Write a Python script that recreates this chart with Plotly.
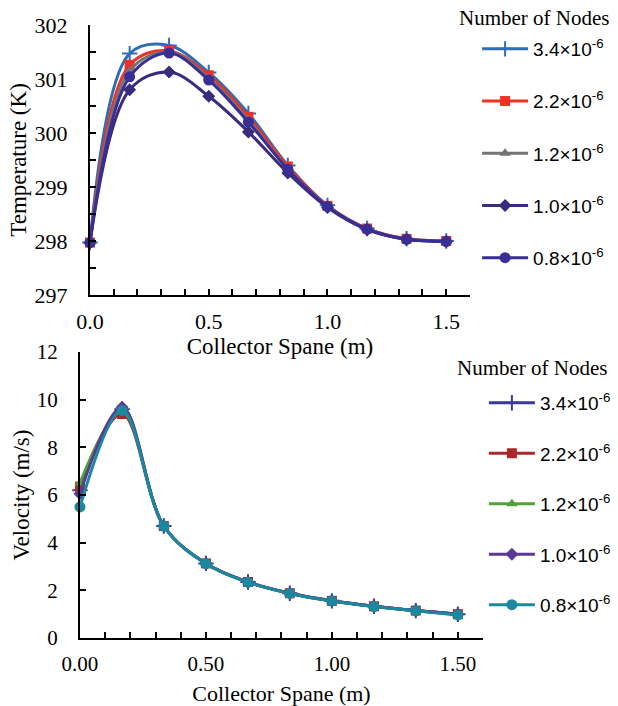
import plotly.graph_objects as go

# ---- data ----
span = [0.0, 0.167, 0.333, 0.5, 0.667, 0.833, 1.0, 1.167, 1.333, 1.5]
node_labels = ["3.4×10<sup>-6</sup>", "2.2×10<sup>-6</sup>", "1.2×10<sup>-6</sup>",
               "1.0×10<sup>-6</sup>", "0.8×10<sup>-6</sup>"]
legend_title = "Number of Nodes"

temp_34 = [297.97, 301.47, 301.62, 301.12, 300.36, 299.40, 298.66, 298.23, 298.04, 298.00]
temp_22 = [297.97, 301.26, 301.52, 301.07, 300.30, 299.38, 298.65, 298.23, 298.04, 298.00]
temp_12 = [297.97, 301.15, 301.50, 301.02, 300.24, 299.34, 298.64, 298.22, 298.03, 298.00]
temp_10 = [297.97, 300.80, 301.13, 300.68, 300.02, 299.26, 298.62, 298.21, 298.03, 297.99]
temp_08 = [297.97, 301.04, 301.48, 300.98, 300.20, 299.33, 298.64, 298.22, 298.03, 297.99]

vel_34 = [6.20, 9.60, 4.70, 3.13, 2.35, 1.88, 1.56, 1.33, 1.15, 1.00]
vel_22 = [6.35, 9.40, 4.70, 3.13, 2.35, 1.88, 1.56, 1.33, 1.15, 1.00]
vel_12 = [6.50, 9.50, 4.68, 3.12, 2.34, 1.87, 1.55, 1.32, 1.14, 0.98]
vel_10 = [6.05, 9.68, 4.70, 3.13, 2.35, 1.88, 1.56, 1.33, 1.15, 1.00]
vel_08 = [5.50, 9.55, 4.70, 3.12, 2.34, 1.87, 1.55, 1.32, 1.14, 0.97]

temps = [temp_34, temp_22, temp_12, temp_10, temp_08]
vels = [vel_34, vel_22, vel_12, vel_10, vel_08]

symbols = ["cross-thin", "square", "triangle-up", "diamond", "circle"]
top_colors = ["#2F6DB4", "#EE3124", "#747474", "#3A2B7C", "#392E95"]
bot_colors = ["#3A3A96", "#A8292C", "#4FA23A", "#5A3A93", "#1B88A0"]
sizes = [11, 10, 10, 10, 11]

SERIF = "Liberation Serif"
SANS = "Liberation Sans"

fig = go.Figure()

for i in range(5):
    fig.add_trace(go.Scatter(
        x=span, y=temps[i], name=node_labels[i], mode="lines+markers",
        line=dict(color=top_colors[i], width=3, shape="spline", smoothing=1.0),
        marker=dict(symbol=symbols[i], size=sizes[i], color=top_colors[i],
                    line=dict(color=top_colors[i], width=2 if i == 0 else 0)),
        xaxis="x", yaxis="y", legend="legend", legendgroup="t%d" % i,
        cliponaxis=False))

for i in range(5):
    fig.add_trace(go.Scatter(
        x=span, y=vels[i], name=node_labels[i], mode="lines+markers",
        line=dict(color=bot_colors[i], width=3, shape="spline", smoothing=1.0),
        marker=dict(symbol=symbols[i], size=sizes[i], color=bot_colors[i],
                    line=dict(color=bot_colors[i], width=2 if i == 0 else 0)),
        xaxis="x2", yaxis="y2", legend="legend2", legendgroup="b%d" % i,
        cliponaxis=False))

axis_common = dict(
    showline=True, linecolor="black", linewidth=2, ticks="inside", ticklen=6,
    tickwidth=1.5, tickcolor="black", showgrid=False, zeroline=False,
    automargin=False,
)
minor_common = dict(ticks="inside", ticklen=6, tickcolor="black", tickwidth=1.5)
tfont = dict(family=SERIF, size=22, color="black")
title_font = dict(family=SERIF, size=23, color="black")

fig.update_layout(
    width=618, height=706,
    margin=dict(l=0, r=0, t=0, b=0, autoexpand=False),
    paper_bgcolor="white", plot_bgcolor="white",
    showlegend=True,
    xaxis=dict(axis_common, domain=[0.1456, 0.7605], range=[0, 1.6], dtick=0.5,
               tickformat=".1f", anchor="y", ticklabelstandoff=6, tickfont=tfont,
               minor=dict(minor_common, dtick=0.1),
               title=dict(text="Collector Spane (m)", font=title_font, standoff=4)),
    yaxis=dict(axis_common, domain=[0.5822, 0.9646], range=[297, 302], dtick=1,
               anchor="x", ticklabelstandoff=16, tickfont=tfont,
               minor=dict(minor_common, dtick=0.5),
               title=dict(text="Temperature (K)", font=title_font, standoff=2)),
    xaxis2=dict(axis_common, domain=[0.1294, 0.7816], range=[0, 1.6], dtick=0.5,
                tickformat=".2f", anchor="y2", ticklabelstandoff=6,
                tickfont=dict(family=SERIF, size=21, color="black"),
                minor=dict(minor_common, dtick=0.1),
                title=dict(text="Collector Spane (m)",
                           font=dict(family=SERIF, size=22, color="black"), standoff=10)),
    yaxis2=dict(axis_common, domain=[0.0963, 0.5014], range=[0, 12], dtick=2,
                anchor="x2", ticklabelstandoff=16,
                tickfont=dict(family=SERIF, size=21, color="black"),
                title=dict(text="Velocity (m/s)", font=title_font, standoff=1)),
    legend=dict(x=0.772, y=0.9575, xanchor="left", yanchor="top",
                bgcolor="rgba(0,0,0,0)", tracegroupgap=24.5, itemwidth=46,
                font=dict(family=SANS, size=19, color="black")),
    legend2=dict(x=0.783, y=0.4563, xanchor="left", yanchor="top",
                 bgcolor="rgba(0,0,0,0)", tracegroupgap=22.8, itemwidth=46,
                 font=dict(family=SANS, size=19, color="black")),
    annotations=[
        dict(text=legend_title, xref="paper", yref="paper", x=0.7395, y=0.9745,
             xanchor="left", yanchor="middle", showarrow=False,
             font=dict(family=SERIF, size=21, color="black")),
        dict(text=legend_title, xref="paper", yref="paper", x=0.736, y=0.4788,
             xanchor="left", yanchor="middle", showarrow=False,
             font=dict(family=SERIF, size=21, color="black")),
    ],
)

fig.write_html("out.html")
